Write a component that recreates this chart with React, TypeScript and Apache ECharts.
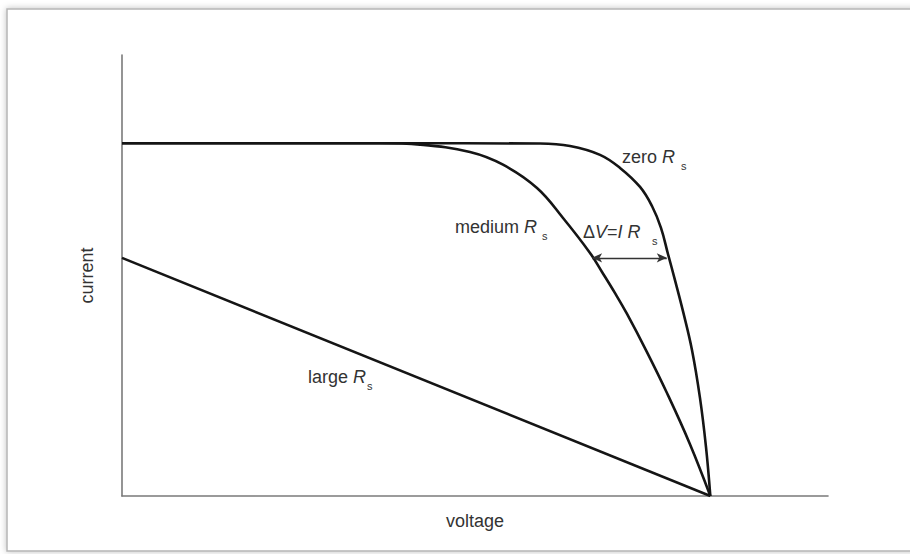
import React, { useEffect, useRef } from "react";
import * as echarts from "echarts";

// Normalised I–V curves of a solar cell for three series resistances.
// x: voltage (Voc = 1), y: current (Isc = 1)
const zeroRsCurve: [number, number][] = [
  [0, 1.0], [0.45, 1.0], [0.7105, 0.999], [0.7615, 0.992], [0.8125, 0.967],
  [0.8465, 0.93], [0.8805, 0.876], [0.9008, 0.822], [0.9161, 0.76],
  [0.928, 0.686], [0.9399, 0.612], [0.9535, 0.524], [0.9688, 0.414],
  [0.9824, 0.278], [0.9926, 0.139], [1.0, 0],
];
const mediumRsCurve: [number, number][] = [
  [0, 1.0], [0.3, 1.0], [0.4385, 1.0], [0.5065, 0.996], [0.5915, 0.975],
  [0.6476, 0.939], [0.7054, 0.873], [0.7496, 0.788], [0.7955, 0.689],
  [0.8159, 0.635], [0.838, 0.575], [0.8584, 0.516], [0.8923, 0.408],
  [0.9263, 0.292], [0.9654, 0.147], [1.0, 0],
];
const largeRsCurve: [number, number][] = [
  [0, 0.675], [1.0, 0],
];
// ΔV = I·Rs marker between the medium and zero curves
const deltaVStart: [number, number] = [0.799, 0.675];
const deltaVEnd: [number, number] = [0.926, 0.675];

const axisRange = { xMax: 1.2, yMax: 1.25 };
const axisNames = { x: "voltage", y: "current" };

const FONT = "'Liberation Sans', Arial, Helvetica, sans-serif";
const TEXT = "#333";
const CURVE = "#151515";

function label(
  x: number,
  y: number,
  main: string,
  sub: string,
  rich: Record<string, any>,
  subDx: number
) {
  return {
    type: "group",
    children: [
      {
        type: "text",
        x,
        y,
        style: {
          text: main,
          rich,
          font: `18px ${FONT}`,
          fill: TEXT,
          textVerticalAlign: "bottom",
        },
      },
      {
        type: "text",
        x: x + subDx,
        y: y + 5,
        style: {
          text: sub,
          font: `11px ${FONT}`,
          fill: TEXT,
          textVerticalAlign: "bottom",
        },
      },
    ],
  };
}

const richStyles = {
  n: { fontSize: 18, fontFamily: FONT, color: TEXT },
  i: { fontSize: 18, fontFamily: FONT, color: TEXT, fontStyle: "italic" },
};

export default function App() {
  const ref = useRef<HTMLDivElement>(null);

  useEffect(() => {
    document.body.style.margin = "0";
    const chart = echarts.init(ref.current!, null, { renderer: "svg" });
    const lineCommon = {
      type: "line",
      showSymbol: false,
      smooth: 0.4,
      lineStyle: { color: CURVE, width: 2.6 },
      silent: true,
      z: 3,
    };
    chart.setOption({
      animation: false,
      backgroundColor: "#fff",
      grid: { left: 122, top: 55, right: 82, bottom: 58 },
      xAxis: {
        type: "value",
        min: 0,
        max: axisRange.xMax,
        name: axisNames.x,
        nameLocation: "middle",
        nameGap: 16,
        nameTextStyle: { fontFamily: FONT, fontSize: 18, color: TEXT },
        axisLine: { lineStyle: { color: "#7a7a7a", width: 1.6 } },
        axisTick: { show: false },
        axisLabel: { show: false },
        splitLine: { show: false },
      },
      yAxis: {
        type: "value",
        min: 0,
        max: axisRange.yMax,
        name: axisNames.y,
        nameLocation: "middle",
        nameGap: 26,
        nameTextStyle: { fontFamily: FONT, fontSize: 18, color: TEXT },
        axisLine: { show: true, lineStyle: { color: "#7a7a7a", width: 1.6 } },
        axisTick: { show: false },
        axisLabel: { show: false },
        splitLine: { show: false },
      },
      series: [
        { ...lineCommon, name: "zero Rs", data: zeroRsCurve },
        {
          ...lineCommon,
          name: "medium Rs",
          data: mediumRsCurve,
          markLine: {
            silent: true,
            symbol: ["arrow", "arrow"],
            symbolSize: [7, 10],
            label: { show: false },
            lineStyle: { color: "#333", width: 1.3, type: "solid" },
            data: [[{ coord: deltaVStart }, { coord: deltaVEnd }]],
          },
        },
        { ...lineCommon, name: "large Rs", smooth: false, data: largeRsCurve },
      ],
      graphic: [
        {
          type: "rect",
          z: -10,
          shape: { x: 7, y: 9, width: 920, height: 542 },
          style: {
            fill: "#fff",
            stroke: "#b5b5b5",
            lineWidth: 1.5,
            shadowBlur: 6,
            shadowColor: "rgba(0,0,0,0.25)",
          },
        },
        label(622, 166, "zero {i|R}", "s", richStyles, 59),
        label(455, 236, "medium {i|R}", "s", richStyles, 87),
        label(583, 241, "{n|Δ}{i|V}{n|=}{i|I R}", "s", richStyles, 69),
        label(308, 386, "large {i|R}", "s", richStyles, 59),
      ],
    });
    return () => chart.dispose();
  }, []);

  return <div ref={ref} style={{ width: 910, height: 554 }} />;
}
